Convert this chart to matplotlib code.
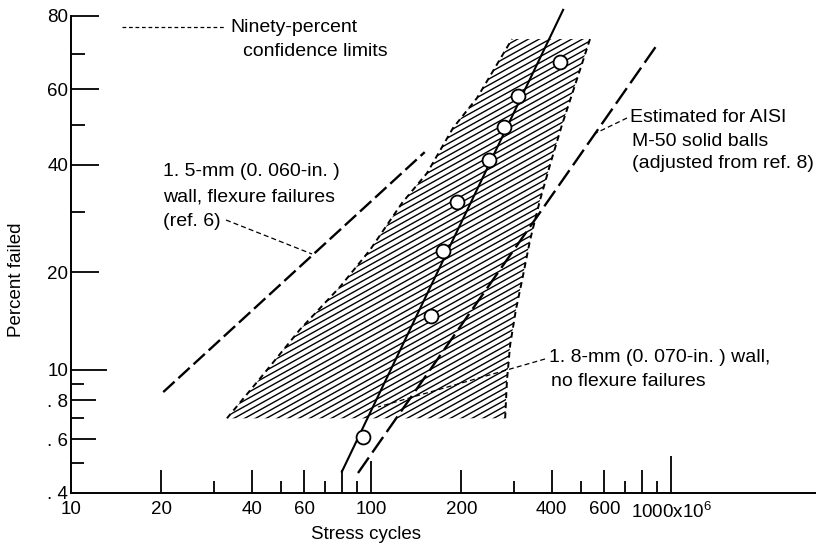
import numpy as np
import matplotlib
matplotlib.use("Agg")
import matplotlib.pyplot as plt
from matplotlib.patches import Polygon
from matplotlib.collections import LineCollection
from matplotlib.lines import Line2D
from matplotlib.transforms import IdentityTransform

plt.rcParams['font.family'] = ['Liberation Sans', 'DejaVu Sans']

# failures of 1.8-mm wall balls, stress cycles x10^6 vs percent failed
cycles = [94, 158, 174, 193, 247, 278, 309, 427]
pct_failed = [6.1, 14.8, 23.2, 31.9, 41.2, 49.6, 58.1, 67.7]

# weibull line through the data
fit_cycles = [80, 437]
fit_pct = [4.7, 81.5]

# 1.5-mm wall, flexure failures (ref. 6)
thin_cycles = [20.3, 151]
thin_pct = [8.5, 43.1]

# estimated for AISI M-50 solid balls
m50_cycles = [90.5, 898]
m50_pct = [4.65, 72.4]

# ninety-percent confidence band
band_left_cycles = [33.1, 42.7, 58.0, 78.8, 99.2, 126.9, 153.7, 187.7, 225.6, 295.1]
band_left_pct = [7.0, 9.4, 13.4, 18.1, 23.3, 31.7, 38.1, 49.3, 57.5, 74.0]
band_right_cycles = [537, 479, 433, 395, 366, 339, 319, 304, 291, 284, 280]
band_right_pct = [74.0, 61.2, 50.1, 40.0, 32.3, 24.9, 19.0, 15.4, 12.0, 9.3, 7.0]

xtick_vals = [10, 20, 30, 40, 50, 60, 70, 80, 90, 100,
              200, 300, 400, 500, 600, 700, 800, 900, 1000]
xtick_labels = ['10', '20', '', '40', '', '60', '', '', '', '100',
                '200', '', '400', '', '600', '', '', '', r'1000x10$^{\mathregular{6}}$']
ytick_vals = [4, 5, 6, 7, 8, 9, 10, 20, 30, 40, 50, 60, 70, 80]
ytick_labels = ['. 4', '', '. 6', '', '. 8', '', '10', '20', '', '40', '', '60', '', '80']

# tick lengths in pixels
xtick_len = [0, 23, 12, 23, 12, 23, 12, 23, 12, 32, 23, 12, 23, 12, 23, 12, 23, 12, 37]
ytick_len = [0, 13, 25, 13, 25, 13, 36, 28, 14, 28, 14, 28, 14, 28]

W, H = 816, 546


def weib(p):
    p = np.clip(np.asarray(p, dtype=float), 1e-4, 99.999)
    return np.log(-np.log(1 - p / 100.0))


def weib_inv(w):
    return 100.0 * (1 - np.exp(-np.exp(w)))


fig = plt.figure(figsize=(W / 100, H / 100), dpi=100)
ax = fig.add_axes([71 / W, (H - 493) / H, (W - 71) / W, 493 / H])
ax.set_xscale('log')
ax.set_yscale('function', functions=(weib, weib_inv))
ax.set_xlim(10, 3043)
ax.set_ylim(4, 83.8)

# confidence band with slanted hatching
band_xy = np.column_stack([band_left_cycles + band_right_cycles,
                           band_left_pct + band_right_pct])
band = Polygon(band_xy, closed=True, facecolor='none', edgecolor='none')
ax.add_patch(band)
slope = np.tan(np.radians(29))
segs = [[(0, c), (W, c + slope * W)] for c in np.arange(-500, 600, 6.0)]
hatch = LineCollection(segs, colors='black', linewidths=1.0,
                       transform=IdentityTransform())
ax.add_collection(hatch, autolim=False)
hatch.set_clip_path(band)
ax.plot(band_left_cycles, band_left_pct, color='black', lw=1.4, ls=(0, (3, 2.2)))
ax.plot(band_right_cycles, band_right_pct, color='black', lw=1.4, ls=(0, (3, 2.2)))

ax.plot(thin_cycles, thin_pct, color='black', lw=1.7, ls=(0, (6.5, 2.2)))
ax.plot(m50_cycles, m50_pct, color='black', lw=1.7, ls=(0, (8, 2.6)))
ax.plot(fit_cycles, fit_pct, color='black', lw=1.5)
ax.plot(cycles, pct_failed, 'o', ms=10, mfc='white', mec='black', mew=1.3, zorder=5)

# axes and ticks
for s in ['top', 'right']:
    ax.spines[s].set_visible(False)
ax.spines['left'].set_bounds(4, 80)
ax.spines['left'].set_linewidth(1.4)
ax.spines['bottom'].set_linewidth(1.4)

ax.set_xticks(xtick_vals, xtick_labels)
ax.set_yticks(ytick_vals, ytick_labels)
ax.xaxis.set_minor_locator(matplotlib.ticker.NullLocator())
ax.yaxis.set_minor_locator(matplotlib.ticker.NullLocator())
ax.tick_params(direction='in', width=1.3, labelsize=13.5)
ax.tick_params(axis='x', pad=6)
ax.tick_params(axis='y', pad=2)
for t, L in zip(ax.xaxis.get_major_ticks(), xtick_len):
    t.tick1line.set_markersize(L * 0.72)
for t, L in zip(ax.yaxis.get_major_ticks(), ytick_len):
    t.tick1line.set_markersize(L * 0.72)

ax.set_xlabel('Stress cycles', fontsize=13.5)
ax.xaxis.set_label_coords(0.396, -0.066)
ax.set_ylabel('Percent failed', fontsize=13.5)
ax.yaxis.set_label_coords(-0.062, 0.432)


def ftext(x, y, s):
    fig.text(x / W, 1 - y / H, s, ha='left', va='center', fontsize=14)


def leader(x0, y0, x1, y1, ls=(0, (4, 2.5))):
    fig.add_artist(Line2D([x0 / W, x1 / W], [1 - y0 / H, 1 - y1 / H],
                          transform=fig.transFigure, color='black', lw=0.9, ls=ls))


# legend for the confidence limits
leader(122, 27, 226, 27, ls=(0, (3, 2.2)))
ftext(230, 27, 'Ninety-percent')
ftext(243, 52, 'confidence limits')

ftext(163, 172, '1. 5-mm (0. 060-in. )')
ftext(163, 197, 'wall, flexure failures')
ftext(163, 221, '(ref. 6)')
leader(226, 220, 312, 254)

ftext(549, 358, '1. 8-mm (0. 070-in. ) wall,')
ftext(551, 382, 'no flexure failures')
leader(545, 359, 378, 407)

ftext(630, 118, 'Estimated for AISI')
ftext(632, 141, 'M-50 solid balls')
ftext(632, 164, '(adjusted from ref. 8)')
leader(627, 118, 596, 133)

fig.savefig('out.png', dpi=100)
